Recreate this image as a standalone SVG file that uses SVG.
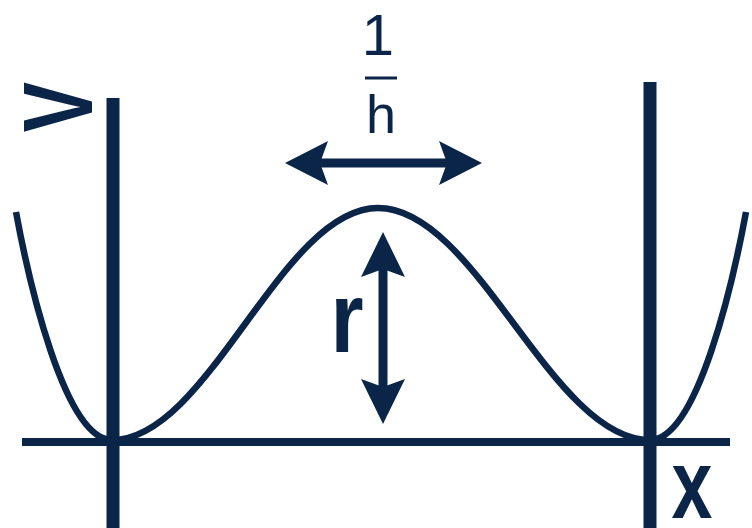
<svg xmlns="http://www.w3.org/2000/svg" width="752" height="528" viewBox="0 0 752 528">
<style>
.ln{stroke:#0B2549;fill:none}
.t{fill:#0B2549;font-family:"Liberation Sans",Arial,sans-serif}
.b{font-weight:bold}
.ah{fill:#0B2549}
</style>
<rect width="752" height="528" fill="#fff"/>
<g id="axes">
<line class="ln" x1="22" y1="442" x2="730" y2="442" stroke-width="8"/>
<line class="ln" x1="113" y1="98" x2="113" y2="528" stroke-width="13"/>
<line class="ln" x1="650" y1="82" x2="650" y2="528" stroke-width="13"/>
</g>
<g id="curve">
<path class="ln" stroke-width="6.5" d="M16,212 C28,277 64,440 112,440 C208.6,440 281.4,208 378,208 C476.7,208 551.3,440 650,440 C698,440 734,277 746,212"/>
</g>
<g id="connectors">
<line class="ln" x1="310" y1="163" x2="458" y2="163" stroke-width="9"/>
<polygon class="ah" points="285,163 328,141 320,163 328,185"/>
<polygon class="ah" points="482,163 439,141 447,163 439,185"/>
<line class="ln" x1="383" y1="255" x2="383" y2="400" stroke-width="9"/>
<polygon class="ah" points="383,232 361,277 383,269 405,277"/>
<polygon class="ah" points="383,424 361,379 383,387 405,379"/>
</g>
<g id="labels">
<text class="t b" font-size="98" text-anchor="middle" transform="translate(57,107) rotate(-90) scale(0.77,1)" x="0" y="35">V</text>
<text class="t" font-size="58" text-anchor="middle" x="378" y="55">1</text>
<line class="ln" x1="365" y1="78" x2="397" y2="78" stroke-width="3"/>
<text class="t" font-size="54" text-anchor="middle" x="381" y="133">h</text>
<text class="t b" font-size="100" text-anchor="middle" transform="translate(347,352) scale(0.85,1)" x="0" y="0">r</text>
<text class="t b" font-size="98" text-anchor="middle" transform="translate(692,518) scale(0.75,1)" x="0" y="0">x</text>
</g>
</svg>
